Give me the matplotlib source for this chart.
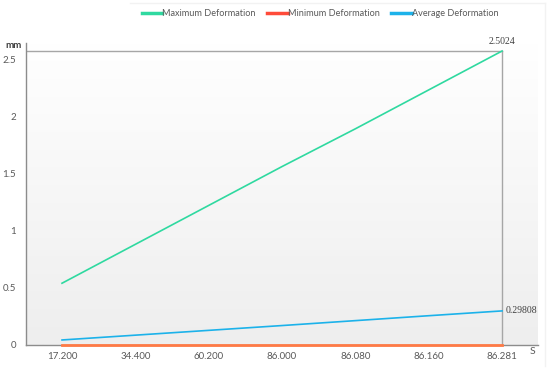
import numpy as np
import matplotlib.pyplot as plt
from matplotlib.colors import LinearSegmentedColormap

plt.rcParams['font.family'] = ['Lato', 'DejaVu Sans']

# data
time_labels = ['17.200', '34.400', '60.200', '86.000', '86.080', '86.160', '86.281']
max_def = [0.54, 0.88, 1.22, 1.56, 1.89, 2.23, 2.57]
min_def = [0.0, 0.0, 0.0, 0.0, 0.0, 0.0, 0.0]
avg_def = [0.044, 0.086, 0.128, 0.170, 0.213, 0.256, 0.298]
max_label = '2.5024'
avg_label = '0.29808'

green = '#2fd9a0'
red = '#ff4b3a'
blue = '#1cb2ea'
grey = '#a6a6a6'
txt = '#595959'

fig = plt.figure(figsize=(5.5, 3.69), dpi=100)
W, H = 550, 369
ax = fig.add_axes([26 / W, (H - 345) / H, 512 / W, (345 - 43) / H])

x = np.arange(len(time_labels))
xlo, xhi = -0.491, 6.49
ylo, yhi = 0, 2.64

# plot area gradient, white at the top, light grey at the bottom
cmap = LinearSegmentedColormap.from_list('bg', ['#ffffff', '#eeeeee'])
grad = np.linspace(0, 1, 256).reshape(-1, 1)
ax.imshow(grad, cmap=cmap, aspect='auto', extent=[xlo, xhi, ylo, yhi],
          origin='upper', zorder=0)

ax.plot(x, max_def, color=green, lw=1.2, zorder=3)
ax.plot(x, avg_def, color=blue, lw=1.2, zorder=3)
ax.plot(x, min_def, color='#ff7a45', lw=2.0, zorder=3, clip_on=False)

# drop lines from the last point
ax.plot([xlo, x[-1]], [max_def[-1]] * 2, color=grey, lw=1, zorder=2)
ax.plot([x[-1], x[-1]], [0, max_def[-1]], color=grey, lw=1, zorder=2)

ax.text(x[-1], max_def[-1] + 0.04, max_label, family='Liberation Serif',
        fontsize=7, color='#404040', ha='center', va='bottom')
ax.text(x[-1] + 0.05, avg_def[-1], avg_label, family='Liberation Serif',
        fontsize=7, color='#404040', ha='left', va='center')

ax.set_xlim(xlo, xhi)
ax.set_ylim(ylo, yhi)
ax.set_xticks(x)
ax.set_xticklabels(time_labels)
ax.set_yticks([0, 0.5, 1, 1.5, 2, 2.5])
ax.set_yticklabels(['0', '0.5', '1', '1.5', '2', '2.5'])
ax.tick_params(length=0, labelsize=7, colors=txt)
ax.tick_params(axis='x', pad=5)
ax.tick_params(axis='y', pad=7)
for s in ['top', 'right']:
    ax.spines[s].set_visible(False)
for s in ['left', 'bottom']:
    ax.spines[s].set_color('#8c8c8c')
    ax.spines[s].set_linewidth(1)

fig.text(14 / W, 1 - 45 / H, 'mm', fontsize=7, color='#404040',
         fontweight='bold', ha='center', va='center')
fig.text(532 / W, 1 - 352 / H, 'S', fontsize=7.5, color=txt,
         ha='center', va='center')

# legend
handles = [plt.Line2D([], [], color=c, lw=2.5) for c in (green, red, blue)]
fig.legend(handles, ['Maximum Deformation', 'Minimum Deformation', 'Average Deformation'],
           loc='center', bbox_to_anchor=(320 / W, 1 - 14 / H), ncol=3, frameon=False,
           fontsize=6.6, labelcolor=txt, handlelength=2.2, handletextpad=0.0,
           columnspacing=1.3)

# faint chart border
fig.add_artist(plt.Line2D([130 / W, 545 / W], [1 - 3 / H] * 2, color='#f2f2f2', lw=1))
fig.add_artist(plt.Line2D([545 / W] * 2, [1 - 3 / H, 1 - 366 / H], color='#f2f2f2', lw=1))

fig.savefig('out.png', dpi=100)
